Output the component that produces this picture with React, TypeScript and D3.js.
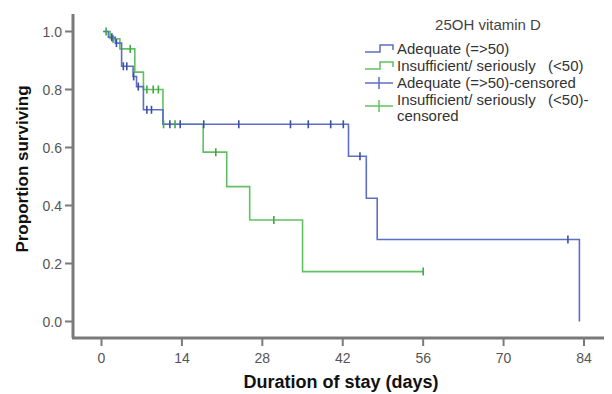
import React from "react";
import * as d3 from "d3";

const xTicks = [0, 14, 28, 42, 56, 70, 84];
const yTicks = [0, 0.2, 0.4, 0.6, 0.8, 1.0];

// Adequate (=>50)
const adequateStart = 0.3;
const adequateEventDays = [1.2, 2.4, 3.5, 5.5, 6.1, 7.3, 10.7, 43, 46.1, 48, 83.2];
const adequateSurvival = [0.98, 0.96, 0.88, 0.845, 0.81, 0.73, 0.68, 0.57, 0.425, 0.283, 0.0];
const adequateCensorDays = [1.8, 2.6, 3.8, 4.4, 5.6, 6.4, 7.9, 8.7, 11.9, 13.7, 17.8, 23.9, 32.9, 36, 39.9, 42.1, 45, 81.2];
const adequateEnd = 83.2;

// Insufficient/ seriously (<50)
const insuffStart = 0.3;
const insuffEventDays = [1.5, 3.2, 5.8, 7.3, 10.7, 17.7, 21.8, 25.8, 35];
const insuffSurvival = [0.975, 0.94, 0.86, 0.8, 0.68, 0.584, 0.465, 0.35, 0.172];
const insuffCensorDays = [0.8, 2.0, 5.0, 7.9, 9.0, 9.9, 10.8, 12.8, 19.9, 30, 56];
const insuffEnd = 56;

const legendTitle = "25OH vitamin D";
const legendLabels = [
  ["Adequate (=>50)"],
  ["Insufficient/ seriously   (<50)"],
  ["Adequate (=>50)-censored"],
  ["Insufficient/ seriously   (<50)-", "censored"],
];

const BLUE = "#5d6ec4";
const BLUE_C = "#3b4ea8";
const GREEN = "#62c062";
const GREEN_C = "#3faa3f";
const AXIS = "#7a7a7a";

function survAt(t: number, days: number[], surv: number[]) {
  let s = 1;
  for (let i = 0; i < days.length; i++) if (days[i] <= t) s = surv[i];
  return s;
}

export default function App() {
  const x = d3.scaleLinear().domain([0, 84]).range([101.5, 584]);
  const y = d3.scaleLinear().domain([0, 1]).range([321.5, 31.5]);
  const line = d3
    .line<[number, number]>()
    .x((d) => x(d[0]))
    .y((d) => y(d[1]))
    .curve(d3.curveStepAfter);

  const mkPts = (start: number, days: number[], surv: number[], end: number) => {
    const pts: [number, number][] = [[start, 1]];
    days.forEach((d, i) => pts.push([d, surv[i]]));
    const last = surv[surv.length - 1];
    if (end > days[days.length - 1]) pts.push([end, last]);
    return pts;
  };

  const bluePts = mkPts(adequateStart, adequateEventDays, adequateSurvival, adequateEnd);
  const greenPts = mkPts(insuffStart, insuffEventDays, insuffSurvival, insuffEnd);

  const font = "Arial, 'Liberation Sans', Helvetica, sans-serif";
  const legendRows = [49, 66, 83, 100];

  return (
    <svg width={612} height={394} style={{ display: "block", position: "absolute", left: 0, top: 0 }} fontFamily={font}>
      <rect width={612} height={394} fill="#fff" />
      {/* axes */}
      <line x1={73} y1={14} x2={73} y2={338} stroke={AXIS} strokeWidth={3} />
      <line x1={72} y1={338} x2={604} y2={338} stroke={AXIS} strokeWidth={3} />
      {yTicks.map((t) => (
        <g key={"y" + t}>
          <line x1={65} x2={73} y1={y(t)} y2={y(t)} stroke={AXIS} strokeWidth={2} />
          <text x={62} y={y(t) + 5} textAnchor="end" fontSize={14} fill="#555">
            {t.toFixed(1)}
          </text>
        </g>
      ))}
      {xTicks.map((t) => (
        <g key={"x" + t}>
          <line x1={x(t)} x2={x(t)} y1={338} y2={346} stroke={AXIS} strokeWidth={2} />
          <text x={x(t)} y={363} textAnchor="middle" fontSize={14} fill="#555">
            {t}
          </text>
        </g>
      ))}
      <text x={341} y={388} textAnchor="middle" fontSize={18} fontWeight="bold" fill="#111">
        Duration of stay (days)
      </text>
      <text
        transform="translate(28,169) rotate(-90)"
        textAnchor="middle"
        fontSize={17}
        fontWeight="bold"
        fill="#111"
      >
        Proportion surviving
      </text>

      {/* curves */}
      <path d={line(greenPts) || ""} fill="none" stroke={GREEN} strokeWidth={1.6} />
      <path d={line(bluePts) || ""} fill="none" stroke={BLUE} strokeWidth={1.6} />
      {insuffCensorDays.map((t, i) => {
        const s = survAt(t, insuffEventDays, insuffSurvival);
        return (
          <line key={"gc" + i} x1={x(t)} x2={x(t)} y1={y(s) - 4} y2={y(s) + 4} stroke={GREEN_C} strokeWidth={1.6} />
        );
      })}
      {adequateCensorDays.map((t, i) => {
        const s = survAt(t, adequateEventDays, adequateSurvival);
        return (
          <line key={"bc" + i} x1={x(t)} x2={x(t)} y1={y(s) - 4} y2={y(s) + 4} stroke={BLUE_C} strokeWidth={1.6} />
        );
      })}

      {/* legend */}
      <text x={488} y={30} textAnchor="middle" fontSize={15} fill="#444">
        {legendTitle}
      </text>
      <path d={`M365,${legendRows[0] + 3}H380V${legendRows[0] - 4}H393V${legendRows[0] + 1}`} fill="none" stroke={BLUE} strokeWidth={1.5} />
      <path d={`M365,${legendRows[1] + 3}H380V${legendRows[1] - 4}H393V${legendRows[1] + 1}`} fill="none" stroke={GREEN} strokeWidth={1.5} />
      <line x1={365} x2={393} y1={legendRows[2]} y2={legendRows[2]} stroke={BLUE} strokeWidth={1.5} />
      <line x1={379} x2={379} y1={legendRows[2] - 6} y2={legendRows[2] + 6} stroke={BLUE} strokeWidth={1.5} />
      <line x1={365} x2={393} y1={legendRows[3] + 6} y2={legendRows[3] + 6} stroke={GREEN} strokeWidth={1.5} />
      <line x1={379} x2={379} y1={legendRows[3]} y2={legendRows[3] + 12} stroke={GREEN} strokeWidth={1.5} />
      {legendLabels.map((lines, i) =>
        lines.map((txt, j) => (
          <text
            key={"l" + i + j}
            transform={`translate(397,${legendRows[i] + 5 + j * 16}) scale(1.07,1)`}
            fontSize={14}
            fill="#333"
            style={{ whiteSpace: "pre" }}
          >
            {txt}
          </text>
        ))
      )}
    </svg>
  );
}
